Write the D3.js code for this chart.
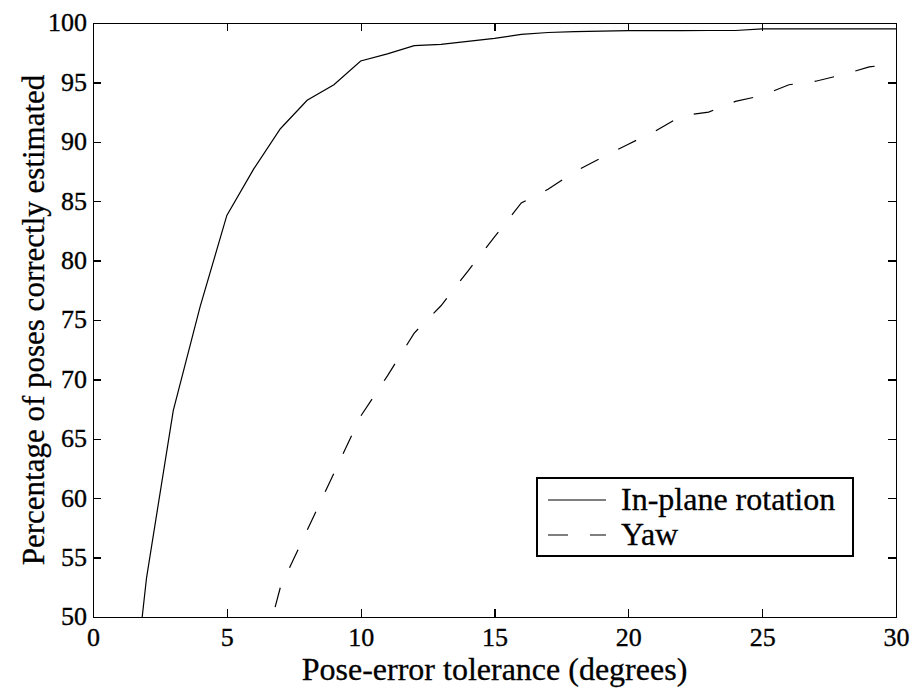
<!DOCTYPE html>
<meta charset="utf-8">
<script src="https://cdn.jsdelivr.net/npm/d3@7"></script>
<style>
    body { margin: 0; background: #fff; }
    .frame line, .frame path { stroke: #000; stroke-width: 1.3; fill: none; shape-rendering: crispEdges; }
    .tick text { font-family: "Liberation Serif", serif; font-size: 26px; fill: #000; stroke: #000; stroke-width: 0.35; }
    .curve { fill: none; stroke: #000; stroke-width: 1.2; }
    .lbl { font-family: "Liberation Serif", serif; font-size: 32px; fill: #000; stroke: #000; stroke-width: 0.3; }
    .leg text { font-family: "Liberation Serif", serif; font-size: 32px; fill: #000; stroke: #000; stroke-width: 0.3; }
</style>
<body>
<script>

    // pose-error tolerance (degrees)
    var planeX = [1, 2, 3, 4, 5, 6, 7, 8, 9, 10, 11, 12, 13, 14, 15, 16, 17, 18, 19, 20, 21, 22, 23, 24, 25, 26, 27, 28, 29, 30]
    var planeY = [33, 53.3, 67.4, 76.1, 83.8, 87.7, 91.1, 93.5, 94.8, 96.8, 97.4, 98.1, 98.2, 98.45, 98.7, 99.05, 99.2, 99.27, 99.32, 99.35, 99.36, 99.36, 99.37, 99.37, 99.5, 99.5, 99.5, 99.5, 99.5, 99.5]

    var yawX = [6, 7, 8, 9, 10, 11, 12, 13, 14, 15, 16, 17, 18, 19, 20, 21, 22, 23, 24, 25, 26, 27, 28, 29, 30]
    var yawY = [44, 52.5, 57.3, 62.1, 66.9, 70.3, 73.9, 76.2, 79.1, 82.0, 84.85, 86.0, 87.5, 88.65, 89.8, 90.9, 92.2, 92.5, 93.4, 93.9, 94.8, 95.1, 95.65, 96.3, 96.6]

    var xTicks = [0, 5, 10, 15, 20, 25, 30]
    var yTicks = [50, 55, 60, 65, 70, 75, 80, 85, 90, 95, 100]
    var labels = ["In-plane rotation", "Yaw"]
    var dashes = [null, "20,22"]

    var margin = {top: 23, left: 93}
    var w = 803
    var h = 594

    var svg = d3.select("body").append("svg").attr("width", 920).attr("height", 688)
    var g = svg.append("g").attr("transform", "translate(" + margin.left + "," + margin.top + ")")

    var x = d3.scaleLinear().domain([0, 30]).range([0, w])
    var y = d3.scaleLinear().domain([50, 100]).range([h, 0])

    svg.append("defs").append("clipPath").attr("id", "clip")
        .append("rect").attr("width", w).attr("height", h)

    // axes, ticks pointing inward like matlab's box
    var tk = 8
    var bottom = g.append("g").attr("class", "frame").attr("transform", "translate(0," + h + ")")
        .call(d3.axisBottom(x).tickValues(xTicks).tickSizeInner(-tk).tickSizeOuter(0).tickPadding(11))
    var left = g.append("g").attr("class", "frame")
        .call(d3.axisLeft(y).tickValues(yTicks).tickSizeInner(-tk).tickSizeOuter(0).tickPadding(6))
    g.append("g").attr("class", "frame")
        .call(d3.axisTop(x).tickValues(xTicks).tickSizeInner(-tk).tickSizeOuter(0).tickFormat(""))
    g.append("g").attr("class", "frame").attr("transform", "translate(" + w + ",0)")
        .call(d3.axisRight(y).tickValues(yTicks).tickSizeInner(-tk).tickSizeOuter(0).tickFormat(""))

    bottom.selectAll(".tick text").attr("dy", "0.71em")
    left.selectAll(".tick text").attr("dy", "0.3em")

    var line = d3.line().x(d => x(d[0])).y(d => y(d[1]))
    var series = [d3.zip(planeX, planeY), d3.zip(yawX, yawY)]

    series.forEach((s, i) => {
        g.append("path").datum(s).attr("class", "curve").attr("clip-path", "url(#clip)")
            .attr("d", line).attr("stroke-dasharray", dashes[i])
    })

    // axis titles
    svg.append("text").attr("class", "lbl").attr("x", margin.left + w / 2).attr("y", 680)
        .attr("text-anchor", "middle").text("Pose-error tolerance (degrees)")
    svg.append("text").attr("class", "lbl").attr("transform", "translate(44," + (margin.top + h / 2) + ") rotate(-90)")
        .attr("text-anchor", "middle").style("font-size", "31px").text("Percentage of poses correctly estimated")

    // legend
    var leg = svg.append("g").attr("class", "leg")
    leg.append("rect").attr("x", 537).attr("y", 478).attr("width", 316).attr("height", 78)
        .attr("fill", "#fff").attr("stroke", "#000").attr("stroke-width", 1.2).attr("shape-rendering", "crispEdges")
    labels.forEach((lab, i) => {
        var ly = 500 + i * 35
        leg.append("line").attr("x1", 548).attr("x2", 606).attr("y1", ly).attr("y2", ly)
            .attr("stroke", "#000").attr("stroke-width", 1.2).attr("stroke-dasharray", dashes[i])
        leg.append("text").attr("x", 621).attr("y", ly).attr("dy", "0.32em").text(lab)
    })

</script>
</body>
